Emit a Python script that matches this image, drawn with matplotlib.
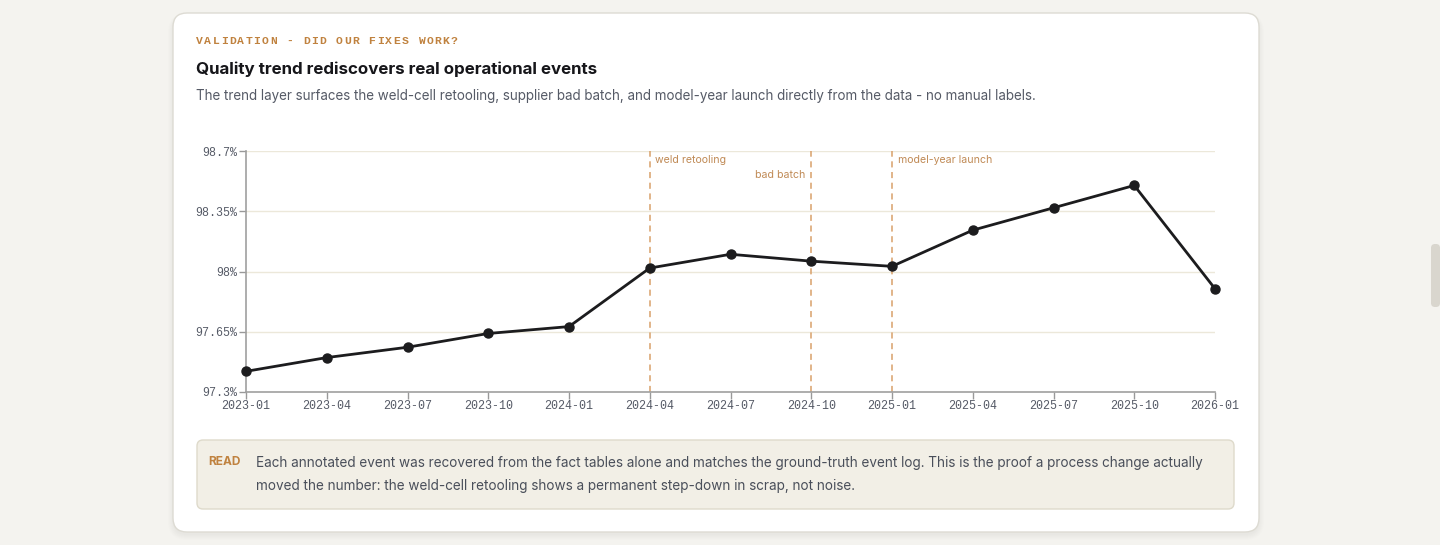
import numpy as np
import matplotlib
matplotlib.use("Agg")
import matplotlib.pyplot as plt
from matplotlib.patches import FancyBboxPatch

### Data
quarters = ['2023-01', '2023-04', '2023-07', '2023-10', '2024-01', '2024-04', '2024-07',
            '2024-10', '2025-01', '2025-04', '2025-07', '2025-10', '2026-01']
quality = [97.42, 97.50, 97.56, 97.64, 97.68, 98.02, 98.10,
           98.06, 98.03, 98.24, 98.37, 98.50, 97.90]
y_ticks = [97.3, 97.65, 98.0, 98.35, 98.7]
y_tick_labels = ['97.3%', '97.65%', '98%', '98.35%', '98.7%']
event_quarters = ['2024-04', '2024-10', '2025-01']
event_labels = ['weld retooling', 'bad batch', 'model-year launch']
event_side = ['right', 'left', 'right']

W, H = 1440, 545
BG = '#f4f3ef'
ORANGE = '#c0823f'
MONO = 'Liberation Mono'
SANS = 'Inter'

fig = plt.figure(figsize=(W / 100, H / 100), dpi=100, facecolor=BG)

def fx(px):
    return px / W

def fy(py):
    return 1 - py / H

# card background with soft shadow
bg = fig.add_axes([0, 0, 1, 1])
bg.set_xlim(0, W)
bg.set_ylim(H, 0)
bg.axis('off')
for i in range(6):
    bg.add_patch(FancyBboxPatch((173 - i, 13 + 3 - i * 0.5), 1086 + 2 * i, 519 + i * 1.5,
                                boxstyle='round,pad=0,rounding_size=%d' % (14 + i),
                                fc=(0, 0, 0, 0.008), ec='none'))
bg.add_patch(FancyBboxPatch((173, 13), 1086, 519, boxstyle='round,pad=0,rounding_size=14',
                            fc='white', ec='#dddbd3', lw=1))
# READ box
bg.add_patch(FancyBboxPatch((197, 440), 1037, 69, boxstyle='round,pad=0,rounding_size=6',
                            fc='#f2efe6', ec='#dedacb', lw=1))
# browser scrollbar thumb
bg.add_patch(FancyBboxPatch((1431, 244), 9, 63, boxstyle='round,pad=0,rounding_size=4',
                            fc='#d9d6ce', ec='none'))

# letter-spaced eyebrow, one char at a time
eyebrow = 'VALIDATION - DID OUR FIXES WORK?'
for i, ch in enumerate(eyebrow):
    fig.text(fx(196 + i * 8.22), fy(41), ch, family=MONO, weight='bold', fontsize=8.2,
             color=ORANGE, va='center', ha='left')
fig.text(fx(196), fy(69), 'Quality trend rediscovers real operational events',
         family=SANS, weight='bold', fontsize=12.2, color='#16161a', va='center', ha='left')
fig.text(fx(196), fy(96), 'The trend layer surfaces the weld-cell retooling, supplier bad batch, '
         'and model-year launch directly from the data - no manual labels.',
         family=SANS, fontsize=9.65, color='#555a66', va='center', ha='left')

fig.text(fx(208), fy(462), 'READ', family=SANS, weight='bold', fontsize=8.6,
         color=ORANGE, va='center', ha='left')
fig.text(fx(256), fy(463), 'Each annotated event was recovered from the fact tables alone and matches '
         'the ground-truth event log. This is the proof a process change actually',
         family=SANS, fontsize=9.75, color='#4a4f5a', va='center', ha='left')
fig.text(fx(256), fy(486), 'moved the number: the weld-cell retooling shows a permanent step-down in '
         'scrap, not noise.', family=SANS, fontsize=9.75, color='#4a4f5a', va='center', ha='left')

# chart
ax = fig.add_axes([fx(246), fy(392), fx(1215) - fx(246), fy(151) - fy(392)])
ax.set_facecolor('none')
x = np.arange(len(quarters))
ax.set_xlim(0, len(quarters) - 1)
ax.set_ylim(97.3, 98.7)

for yt in y_ticks:
    ax.axhline(yt, color='#ece8da', lw=1, zorder=0)

for q, lab, side in zip(event_quarters, event_labels, event_side):
    xi = quarters.index(q)
    ax.axvline(xi, color='#d9a06a', lw=1.1, ls=(0, (4, 3)), zorder=1)
    if side == 'right':
        ax.text(xi + 0.07, 98.65, lab, fontsize=7.6, family=SANS, color='#c08a55',
                ha='left', va='center')
    else:
        ax.text(xi - 0.07, 98.56, lab, fontsize=7.6, family=SANS, color='#c08a55',
                ha='right', va='center')

ax.plot(x, quality, color='#1c1c1e', lw=2, marker='o', ms=6.5, zorder=3, clip_on=False)

ax.set_xticks(x)
ax.set_xticklabels(quarters)
ax.set_yticks(y_ticks)
ax.set_yticklabels(y_tick_labels)
for lab in ax.get_xticklabels() + ax.get_yticklabels():
    lab.set_family(MONO)
    lab.set_fontsize(8.4)
    lab.set_color('#555a66')
ax.tick_params(axis='both', length=5, width=1, color='#999999', pad=1)
for s in ['top', 'right']:
    ax.spines[s].set_visible(False)
for s in ['left', 'bottom']:
    ax.spines[s].set_color('#a0a0a0')
    ax.spines[s].set_linewidth(1.2)

fig.savefig('out.png', dpi=100, facecolor=BG)
